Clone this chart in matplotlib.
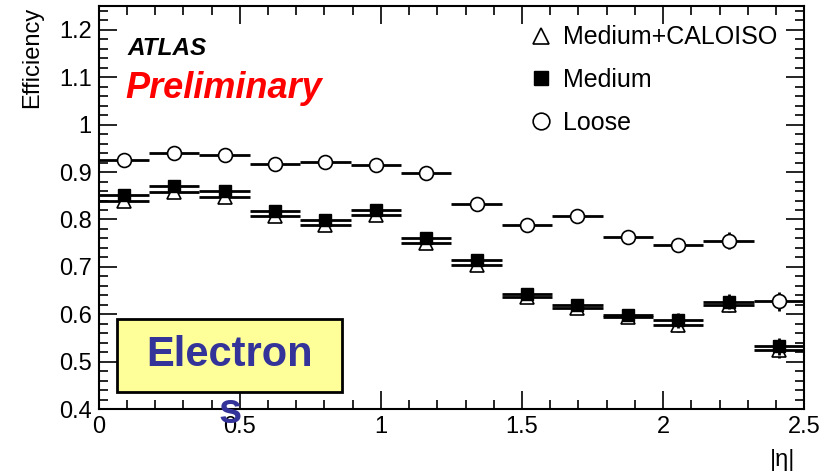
import numpy as np
import matplotlib
matplotlib.use("Agg")
import matplotlib.pyplot as plt
from matplotlib.lines import Line2D
from matplotlib.patches import Rectangle
from matplotlib.ticker import MultipleLocator, FuncFormatter

plt.rcParams['font.family'] = ['Liberation Sans', 'DejaVu Sans']

# 14 equal bins in |eta| from 0 to 2.5
eta_edges = np.linspace(0, 2.5, 15)

loose = [0.926, 0.940, 0.937, 0.918, 0.922, 0.916, 0.898,
         0.832, 0.788, 0.807, 0.763, 0.746, 0.755, 0.628]
loose_err = [0.008, 0.008, 0.008, 0.008, 0.008, 0.009, 0.010,
             0.010, 0.010, 0.012, 0.012, 0.014, 0.018, 0.020]

medium = [0.852, 0.871, 0.860, 0.818, 0.799, 0.821, 0.762,
          0.715, 0.642, 0.619, 0.599, 0.587, 0.627, 0.533]
medium_err = [0.010, 0.010, 0.010, 0.009, 0.009, 0.010, 0.010,
              0.010, 0.010, 0.010, 0.012, 0.015, 0.015, 0.018]

caloiso = [0.840, 0.858, 0.848, 0.807, 0.788, 0.810, 0.750,
           0.704, 0.636, 0.614, 0.594, 0.578, 0.619, 0.525]
caloiso_err = [0.010, 0.010, 0.010, 0.009, 0.009, 0.010, 0.010,
               0.010, 0.010, 0.010, 0.012, 0.015, 0.015, 0.018]

centers = 0.5 * (eta_edges[:-1] + eta_edges[1:])
halfw = 0.5 * np.diff(eta_edges)

fig = plt.figure(figsize=(8.36, 4.73), dpi=100)
ax = fig.add_axes([0.118, 0.135, 0.844, 0.852])

# triangles first, then squares, circles on top
ax.errorbar(centers, caloiso, xerr=halfw, yerr=caloiso_err, fmt='^', color='black',
            mfc='white', mec='black', ms=10, mew=1.2, elinewidth=2, capsize=0, zorder=3)
ax.errorbar(centers, medium, xerr=halfw, yerr=medium_err, fmt='s', color='black',
            mfc='black', mec='black', ms=8.5, elinewidth=2, capsize=0, zorder=4)
ax.errorbar(centers, loose, xerr=halfw, yerr=loose_err, fmt='o', color='black',
            mfc='white', mec='black', ms=10, mew=1.2, elinewidth=2, capsize=0, zorder=5)

ax.set_xlim(0, 2.5)
ax.set_ylim(0.4, 1.25)
ax.xaxis.set_major_locator(MultipleLocator(0.5))
ax.xaxis.set_minor_locator(MultipleLocator(0.1))
ax.yaxis.set_major_locator(MultipleLocator(0.1))
ax.yaxis.set_minor_locator(MultipleLocator(0.02))
fmt = FuncFormatter(lambda v, p: '%g' % round(v, 2))
ax.xaxis.set_major_formatter(fmt)
ax.yaxis.set_major_formatter(fmt)
ax.tick_params(which='both', direction='in', top=True, right=True, labelsize=17, width=1.2)
ax.tick_params(which='major', length=13, pad=5)
ax.tick_params(which='minor', length=6.5)
for s in ax.spines.values():
    s.set_linewidth(1.5)

fig.text(0.038, 0.985, 'Efficiency', rotation=90, ha='center', va='top', fontsize=17)
fig.text(0.921, 0.027, '|\u03b7|', ha='left', va='center', fontsize=17)

fig.text(0.152, 0.897, 'ATLAS', fontsize=17.5, fontweight='bold', fontstyle='italic',
         ha='left', va='center')
fig.text(0.150, 0.813, 'Preliminary', fontsize=26, fontweight='bold', fontstyle='italic',
         color='red', ha='left', va='center')

handles = [Line2D([], [], ls='none', marker='^', mfc='white', mec='black', ms=12, mew=1.2),
           Line2D([], [], ls='none', marker='s', mfc='black', mec='black', ms=10),
           Line2D([], [], ls='none', marker='o', mfc='white', mec='black', ms=12, mew=1.2)]
ax.legend(handles, ['Medium+CALOISO', 'Medium', 'Loose'], loc='upper left',
          bbox_to_anchor=(0.608, 0.994), bbox_transform=fig.transFigure, frameon=False,
          fontsize=18, handlelength=0.8, handletextpad=0.5, labelspacing=0.75)

fig.patches.append(Rectangle((0.140, 0.171), 0.269, 0.154, transform=fig.transFigure,
                             fc='#ffff99', ec='black', lw=2, zorder=5))
fig.text(0.275, 0.249, 'Electron', fontsize=30, fontweight='bold', color='#333399',
         ha='center', va='center', zorder=6)
fig.text(0.275, 0.13, 's', fontsize=30, fontweight='bold', color='#333399',
         ha='center', va='center', zorder=6)

fig.savefig('out.png', dpi=100)
